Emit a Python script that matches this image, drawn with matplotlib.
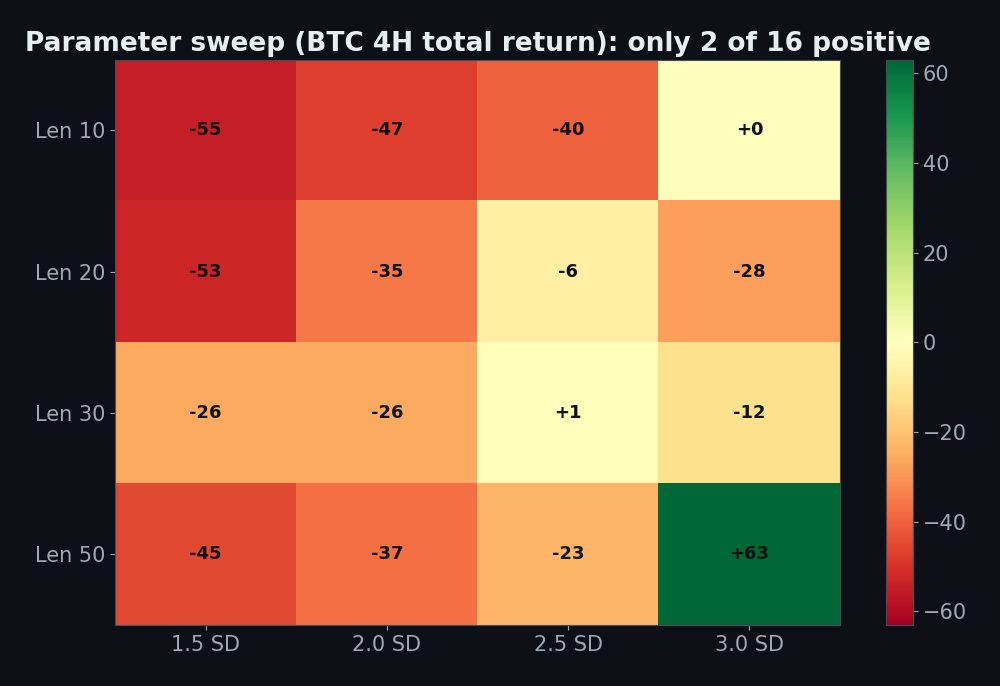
import matplotlib
matplotlib.use("Agg")
import matplotlib.pyplot as plt
import numpy as np

rows = ["Len 10", "Len 20", "Len 30", "Len 50"]
cols = ["1.5 SD", "2.0 SD", "2.5 SD", "3.0 SD"]
ret = np.array([
    [-55, -47, -40, 0.3],
    [-53, -35, -6, -28],
    [-26, -26, 1, -12],
    [-45, -37, -23, 63],
])

bg = "#0d1117"
fig = plt.figure(figsize=(10, 6.86), dpi=100, facecolor=bg)
ax = fig.add_axes([0.115, 0.089, 0.725, 0.824])
cax = fig.add_axes([0.886, 0.089, 0.027, 0.824])
ax.set_facecolor(bg)

lim = np.abs(ret).max()
im = ax.imshow(ret, cmap="RdYlGn", vmin=-lim, vmax=lim, aspect="auto")
for i in range(len(rows)):
    for j in range(len(cols)):
        ax.text(j, i, f"{ret[i, j]:+.0f}", ha="center", va="center",
                fontsize=13, fontweight="bold", color="#111111")

ax.set_xticks(range(len(cols)))
ax.set_xticklabels(cols)
ax.set_yticks(range(len(rows)))
ax.set_yticklabels(rows)
ax.tick_params(colors="#a0a8b4", labelsize=15)
for s in ax.spines.values():
    s.set_color("#444c56")
ax.set_title("Parameter sweep (BTC 4H total return): only 2 of 16 positive",
             color="#e6edf3", fontsize=19, fontweight="bold", pad=6)

cb = fig.colorbar(im, cax=cax, ticks=[-60, -40, -20, 0, 20, 40, 60])
cb.ax.tick_params(colors="#a0a8b4", labelsize=15)
cb.outline.set_edgecolor("#444c56")

fig.savefig("out.png", facecolor=bg)
